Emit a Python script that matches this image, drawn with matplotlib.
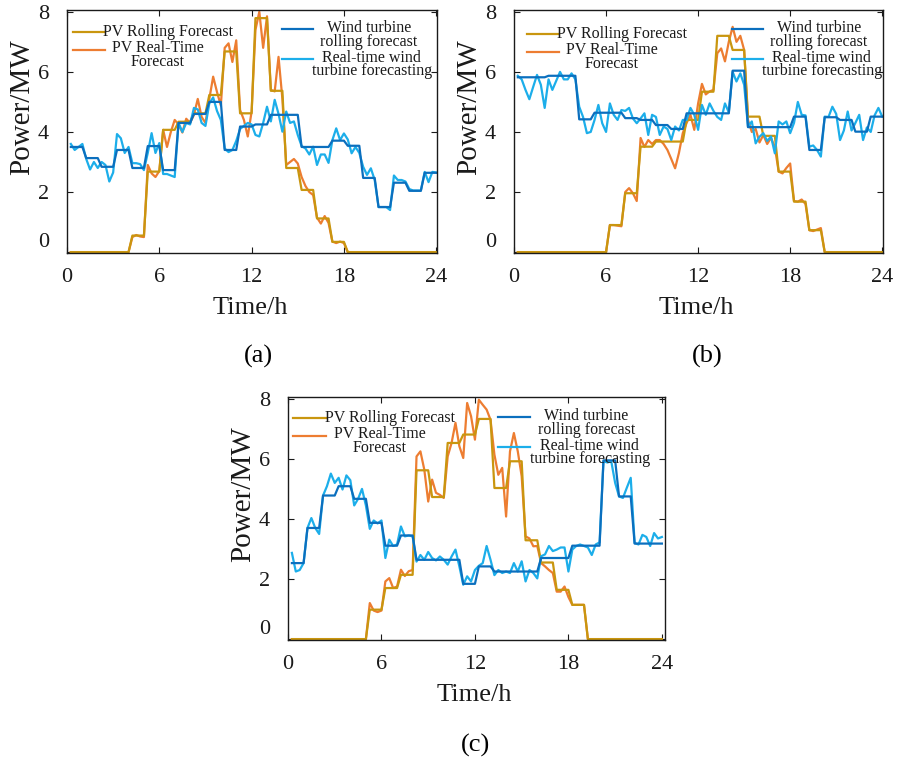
import numpy as np
import matplotlib
matplotlib.use("Agg")
import matplotlib.pyplot as plt

plt.rcParams["font.family"] = ["Liberation Serif", "DejaVu Serif"]

# colours of the four series
PV_ROLL = "#C9960F"
PV_RT = "#ED7D31"
WT_ROLL = "#0B6FBE"
WT_RT = "#1CAEEA"

# 15-minute time stamps, 0.25 h .. 24 h
hours = np.arange(1, 97) / 4

# ---------------- panel (a) ----------------
a_pv_roll = [0, 0, 0, 0, 0.55, 2.68, 4.07, 4.34, 4.62, 5.23, 6.68, 4.62,
             7.79, 5.37, 2.8, 2.07, 1.12, 0.34, 0, 0, 0, 0, 0, 0]
a_pv_rt = [0] * 16 + [
    0.5, 0.57, 0.52, 0.5, 2.9, 2.62, 2.5, 2.7,
    4.07, 3.5, 4.0, 4.4, 4.25, 3.98, 4.44, 4.3,
    4.57, 5.1, 4.5, 4.3, 5.1, 5.84, 5.33, 4.88,
    6.8, 6.95, 6.33, 7.05, 4.73, 4.4, 3.85, 4.68,
    7.4, 8.0, 6.8, 7.85, 5.4, 5.35, 6.5, 5.1,
    2.9, 3.0, 3.1, 2.95, 2.5, 2.2, 2.0, 1.9,
    1.15, 0.95, 1.2, 0.97, 0.35, 0.3, 0.35, 0.3] + [0] * 24
a_wt_roll = [3.5, 3.13, 2.84, 3.4, 2.8, 3.53, 2.73, 4.3, 4.6, 5.0, 3.4, 4.18,
             4.25, 4.57, 4.57, 3.5, 3.5, 3.71, 3.54, 2.47, 1.5, 2.31, 2.04, 2.64]
a_wt_rt = [
    3.6, 3.4, 3.5, 3.6, 3.1, 2.75, 3.0, 2.8,
    3.0, 2.9, 2.35, 2.65, 3.93, 3.79, 3.3, 3.5,
    2.96, 2.96, 2.93, 2.73, 3.3, 3.96, 3.3, 3.63,
    2.6, 2.6, 2.55, 2.5, 4.3, 4.0, 4.3, 4.25,
    4.8, 4.75, 4.3, 4.2, 4.95, 5.15, 4.7, 4.4,
    3.45, 3.33, 3.4, 3.7, 4.1, 4.2, 4.3, 4.25,
    3.9, 3.85, 4.3, 4.84, 4.35, 5.07, 4.6, 4.01,
    4.68, 4.3, 4.35, 3.9, 3.53, 3.45, 3.25, 3.51,
    2.9, 3.25, 3.25, 2.97, 3.73, 4.12, 3.73, 3.95,
    3.75, 3.29, 3.5, 3.3, 2.84, 2.57, 2.79, 2.4,
    1.5, 1.5, 1.5, 1.4, 2.55, 2.4, 2.4, 2.35,
    2.1, 2.05, 2.05, 2.05, 2.67, 2.33, 2.67, 2.65]

# ---------------- panel (b) ----------------
b_pv_roll = [0, 0, 0, 0, 0, 0, 0.9, 1.96, 3.51, 3.68, 3.68, 4.4,
             5.34, 7.2, 6.73, 4.51, 3.87, 2.68, 1.68, 0.73, 0, 0, 0, 0]
b_pv_rt = [0] * 24 + [
    0.9, 0.9, 0.88, 0.86, 2.0, 2.13, 1.96, 1.7,
    3.8, 3.5, 3.73, 3.6, 3.73, 3.73, 3.6, 3.4,
    3.1, 2.79, 3.3, 3.96, 4.3, 4.57, 4.07, 4.95,
    5.6, 5.25, 5.35, 5.4, 6.62, 6.78, 6.35, 7.0,
    7.5, 7.0, 7.2, 6.73, 4.4, 4.0, 4.1, 3.65,
    3.9, 3.6, 3.8, 3.5, 2.68, 2.62, 2.8, 2.95,
    1.7, 1.68, 1.75, 1.6, 0.73, 0.7, 0.75, 0.8] + [0] * 16
b_wt_roll = [5.82, 5.82, 5.87, 5.87, 4.42, 4.64, 4.64, 4.46, 4.4, 4.23, 4.1, 4.62,
             4.62, 4.62, 6.04, 4.16, 4.16, 4.16, 4.51, 3.4, 4.49, 4.4, 4.01, 4.51]
b_wt_rt = [
    5.87, 5.75, 5.4, 5.09, 5.5, 5.9, 5.57, 4.8,
    5.75, 5.4, 5.7, 6.0, 5.75, 5.75, 5.95, 5.75,
    4.84, 4.5, 3.96, 4.0, 4.4, 4.9, 4.29, 4.0,
    4.95, 4.57, 4.4, 4.73, 4.7, 4.8, 4.45, 4.29,
    4.45, 4.62, 3.9, 4.57, 4.5, 3.9, 4.18, 4.1,
    3.73, 4.18, 4.05, 4.4, 4.4, 4.8, 4.57, 4.07,
    4.9, 4.57, 4.95, 4.7, 4.5, 4.4, 4.95, 4.65,
    6.0, 5.68, 5.95, 5.57, 4.18, 4.35, 3.62, 3.84,
    3.96, 3.7, 3.85, 3.29, 4.35, 4.25, 4.35, 3.96,
    4.3, 5.0, 4.57, 4.55, 3.51, 3.55, 3.4, 3.18,
    4.51, 4.5, 4.84, 4.6, 3.73, 4.05, 4.68, 4.05,
    4.3, 4.57, 3.73, 4.15, 4.0, 4.55, 4.8, 4.51]

# ---------------- panel (c) ----------------
c_pv_roll = [0, 0, 0, 0, 0, 0.98, 1.7, 2.14, 5.62, 4.73, 6.53, 6.81,
             7.33, 5.03, 5.92, 3.29, 2.55, 1.64, 1.14, 0, 0, 0, 0, 0]
c_pv_rt = [0] * 20 + [
    1.2, 0.95, 0.9, 0.95, 1.92, 2.03, 1.7, 1.75,
    2.31, 2.1, 2.26, 2.3, 6.08, 6.25, 5.64, 4.58,
    5.31, 4.87, 4.8, 4.7, 6.08, 6.53, 7.2, 6.42,
    6.03, 7.86, 7.42, 6.64, 7.97, 7.8, 7.64, 7.3,
    6.14, 5.47, 5.7, 4.08, 6.25, 6.86, 6.25, 5.42,
    3.42, 3.35, 3.09, 3.1, 2.53, 2.42, 2.3, 2.2,
    1.58, 1.58, 1.75, 1.4, 1.14, 1.14, 1.14, 1.14] + [0] * 20
c_wt_roll = [2.53, 3.7, 4.78, 5.09, 4.67, 3.87, 3.11, 3.45, 2.64, 2.64, 2.64, 1.84,
             2.42, 2.25, 2.25, 2.25, 2.7, 2.7, 3.11, 3.11, 5.95, 4.75, 3.18, 3.18]
c_wt_rt = [
    2.87, 2.25, 2.3, 2.53, 3.7, 4.03, 3.7, 3.5,
    4.78, 5.09, 5.51, 5.2, 5.37, 4.98, 5.45, 5.29,
    4.45, 4.67, 5.0, 4.45, 3.67, 3.95, 3.85, 3.95,
    2.7, 3.31, 3.1, 3.15, 3.75, 3.42, 3.45, 3.42,
    2.58, 2.8, 2.64, 2.9, 2.7, 2.62, 2.75, 2.64,
    2.48, 2.75, 2.98, 2.42, 1.81, 2.09, 1.92, 2.3,
    2.44, 2.53, 3.1, 2.64, 2.13, 2.3, 2.2, 2.25,
    2.2, 2.53, 2.25, 2.59, 1.92, 2.3, 2.2, 2.02,
    2.76, 2.82, 3.1, 2.93, 2.98, 3.05, 3.05, 2.25,
    2.98, 3.1, 3.15, 3.1, 3.05, 2.8, 3.15, 3.22,
    5.92, 5.88, 5.92, 5.2, 4.75, 4.7, 5.04, 5.37,
    3.2, 3.15, 3.47, 3.4, 3.1, 3.53, 3.35, 3.4]

x_ticks = [0, 6, 12, 18, 24]
y_ticks = [0, 2, 4, 6, 8]
pv_labels = ["PV Rolling Forecast", "PV Real-Time\nForecast"]
wt_labels = ["Wind turbine\nrolling forecast", "Real-time wind\nturbine forecasting"]


def draw_legends(ax, pv_x, pv_y, wt_x, wt_y):
    kw = dict(transform=ax.transAxes, fontsize=11.5, ha="center", va="center",
              multialignment="center", linespacing=0.8, color="#1a1a1a", zorder=6)
    lk = dict(transform=ax.transAxes, lw=1.6, clip_on=False, zorder=5)
    ax.plot([pv_x, pv_x + 0.087], [pv_y, pv_y], color=PV_ROLL, **lk)
    ax.plot([pv_x, pv_x + 0.087], [pv_y - 0.075, pv_y - 0.075], color=PV_RT, **lk)
    ax.text(pv_x + 0.258, pv_y, pv_labels[0], **kw)
    ax.text(pv_x + 0.23, pv_y - 0.094, pv_labels[1], **kw)

    ax.plot([wt_x, wt_x + 0.085], [wt_y, wt_y], color=WT_ROLL, **lk)
    ax.plot([wt_x, wt_x + 0.085], [wt_y - 0.124, wt_y - 0.124], color=WT_RT, **lk)
    ax.text(wt_x + 0.235, wt_y - 0.025, wt_labels[0], **kw)
    ax.text(wt_x + 0.243, wt_y - 0.1465, wt_labels[1], **kw)


def draw_panel(ax, pv_roll, pv_rt, wt_roll, wt_rt, xmax):
    ax.plot(hours, pv_rt, color=PV_RT, lw=1.6)
    ax.plot(hours, np.repeat(pv_roll, 4), color=PV_ROLL, lw=1.6)
    ax.plot(hours, wt_rt, color=WT_RT, lw=1.6)
    ax.plot(hours, np.repeat(wt_roll, 4), color=WT_ROLL, lw=1.6)
    ax.set_xlim(0, xmax)
    ax.set_ylim(-0.03, 8.06)
    ax.set_xticks(x_ticks)
    ax.set_yticks(y_ticks)
    ax.tick_params(direction="in", top=True, right=True, length=4.5, width=0.8,
                   labelsize=16, colors="#1a1a1a")
    ax.tick_params(axis="y", pad=13)
    ax.tick_params(axis="x", pad=11)
    ax.yaxis.get_majorticklabels()[0].set_va("bottom")
    for s in ax.spines.values():
        s.set_linewidth(1.0)
        s.set_color("#1a1a1a")
    ax.set_xlabel("Time/h", fontsize=19, color="#1a1a1a")
    ax.set_ylabel("Power/MW", fontsize=21, color="#1a1a1a")
    ax.xaxis.set_label_coords(0.495, -0.18)
    ax.yaxis.set_label_coords(-0.085, 0.6)


fig = plt.figure(figsize=(9.02, 7.62), dpi=100)

ax_a = fig.add_axes([67 / 902, 1 - 253 / 762, 370 / 902, 243 / 762])
draw_panel(ax_a, a_pv_roll, a_pv_rt, a_wt_roll, a_wt_rt, 24.05)
draw_legends(ax_a, 0.016, 0.909, 0.581, 0.922)

ax_b = fig.add_axes([514 / 902, 1 - 253 / 762, 369 / 902, 243 / 762])
draw_panel(ax_b, b_pv_roll, b_pv_rt, b_wt_roll, b_wt_rt, 24.05)
draw_legends(ax_b, 0.035, 0.901, 0.591, 0.922)

ax_c = fig.add_axes([288 / 902, 1 - 640 / 762, 377 / 902, 243 / 762])
draw_panel(ax_c, c_pv_roll, c_pv_rt, c_wt_roll, c_wt_rt, 24.2)
draw_legends(ax_c, 0.013, 0.914, 0.557, 0.918)

fig.text(258 / 902, 1 - 356 / 762, "(a)", fontsize=19, ha="center", va="center")
fig.text(707 / 902, 1 - 356 / 762, "(b)", fontsize=19, ha="center", va="center")
fig.text(476 / 902, 1 - 745 / 762, "(c)", fontsize=19, ha="center", va="center")

fig.savefig("out.png", dpi=100, facecolor="white")
